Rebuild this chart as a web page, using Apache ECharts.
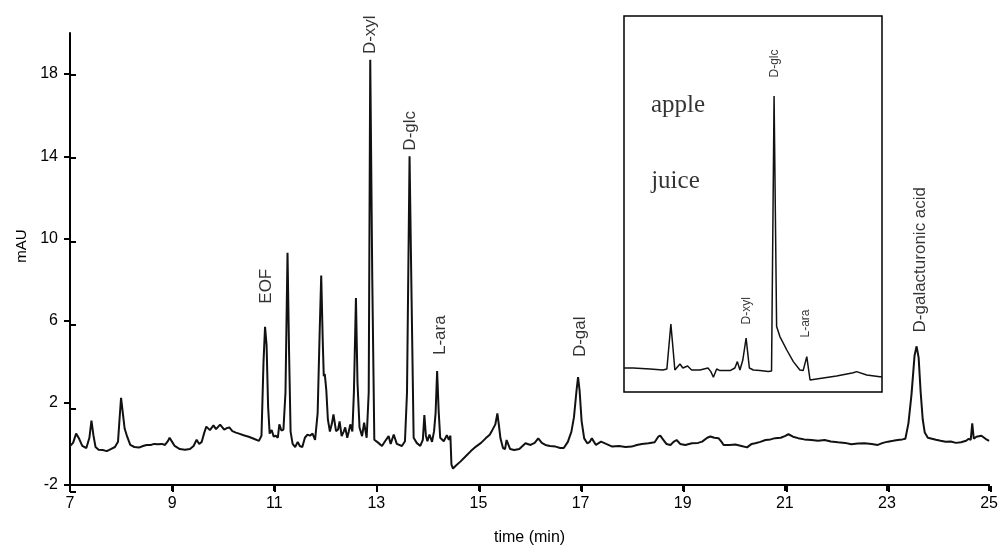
<!DOCTYPE html>
<html>
<head>
<meta charset="utf-8">
<script src="https://cdn.jsdelivr.net/npm/echarts@6/dist/echarts.min.js"></script>
<style>
html, body { margin: 0; padding: 0; background: #fff; }
#chart1 { width: 1001px; height: 551px; }
</style>
</head>
<body>
<div id="chart1"></div>
<script>
var xTicks = [7, 9, 11, 13, 15, 17, 19, 21, 23, 25];
var yTicks = [-2, 2, 6, 10, 14, 18];

// main electropherogram [time (min), mAU]
var trace = [
    [7.00,-0.10],[7.06,0.05],[7.12,0.50],[7.18,0.25],[7.24,-0.10],[7.32,-0.20],[7.38,0.30],[7.42,1.13],[7.46,0.40],[7.50,-0.15],
    [7.56,-0.28],[7.64,-0.30],[7.72,-0.35],[7.80,-0.25],[7.88,-0.15],[7.94,0.10],[7.97,1.20],[8.00,2.24],[8.03,1.60],[8.07,0.75],
    [8.12,0.35],[8.18,-0.05],[8.26,-0.15],[8.35,-0.18],[8.43,-0.10],[8.50,-0.05],[8.58,-0.05],[8.65,0.00],[8.72,-0.02],[8.80,0.00],
    [8.86,-0.05],[8.92,0.15],[8.95,0.30],[9.00,0.10],[9.05,-0.10],[9.15,-0.25],[9.25,-0.28],[9.35,-0.25],[9.42,-0.10],[9.48,0.20],
    [9.53,0.00],[9.58,0.10],[9.63,0.55],[9.67,0.84],[9.74,0.67],[9.81,0.90],[9.86,0.72],[9.94,0.94],[10.02,0.70],[10.08,0.78],
    [10.12,0.80],[10.18,0.62],[10.25,0.55],[10.31,0.50],[10.40,0.42],[10.50,0.35],[10.60,0.25],[10.70,0.15],[10.75,0.40],[10.79,4.00],
    [10.82,5.70],[10.85,4.80],[10.88,1.80],[10.91,0.50],[10.95,0.68],[10.99,0.35],[11.03,0.40],[11.07,0.30],[11.10,0.95],[11.14,0.65],
    [11.18,0.70],[11.22,2.50],[11.26,9.30],[11.29,4.50],[11.32,0.60],[11.36,0.00],[11.41,-0.15],[11.46,0.10],[11.50,-0.10],[11.55,-0.15],
    [11.60,0.30],[11.65,0.45],[11.70,0.40],[11.75,0.50],[11.80,0.20],[11.85,1.50],[11.89,5.50],[11.92,8.20],[11.95,5.00],[11.97,3.30],
    [11.99,3.40],[12.02,2.60],[12.05,1.20],[12.09,0.60],[12.13,1.00],[12.16,1.44],[12.21,0.62],[12.25,0.70],[12.28,1.10],[12.32,0.38],
    [12.36,0.60],[12.39,0.80],[12.43,0.30],[12.46,0.60],[12.49,0.95],[12.53,0.60],[12.56,2.50],[12.60,7.10],[12.63,3.00],[12.67,0.80],
    [12.72,0.38],[12.76,1.03],[12.81,0.30],[12.85,2.50],[12.88,18.70],[12.92,8.00],[12.96,0.20],[13.04,0.05],[13.11,-0.10],[13.17,0.13],
    [13.24,0.38],[13.28,0.00],[13.34,0.46],[13.40,0.00],[13.50,-0.10],[13.56,0.13],[13.60,2.50],[13.65,14.00],[13.69,7.00],[13.73,0.30],
    [13.79,0.05],[13.86,-0.10],[13.91,0.20],[13.94,1.40],[13.97,0.40],[14.00,0.13],[14.04,0.46],[14.09,0.10],[14.13,0.62],[14.16,1.50],
    [14.19,3.55],[14.22,1.60],[14.25,0.30],[14.32,0.13],[14.38,0.43],[14.42,0.20],[14.45,0.40],[14.47,-1.00],[14.50,-1.20],[14.56,-1.05],
    [14.65,-0.85],[14.75,-0.60],[14.85,-0.35],[14.95,-0.13],[15.05,0.05],[15.14,0.27],[15.22,0.45],[15.27,0.67],[15.33,0.95],[15.37,1.48],
    [15.40,0.90],[15.43,0.27],[15.48,-0.20],[15.52,-0.25],[15.55,0.19],[15.58,0.00],[15.62,-0.25],[15.70,-0.30],[15.80,-0.25],[15.92,0.03],
    [16.02,-0.05],[16.10,0.05],[16.17,0.27],[16.24,0.05],[16.31,-0.05],[16.40,-0.10],[16.51,-0.13],[16.60,-0.20],[16.67,-0.20],[16.75,0.10],
    [16.82,0.60],[16.87,1.30],[16.92,2.60],[16.95,3.25],[16.98,2.60],[17.02,1.10],[17.07,0.27],[17.13,0.03],[17.18,0.10],[17.22,0.27],
    [17.30,-0.05],[17.40,0.11],[17.50,0.00],[17.62,-0.13],[17.75,-0.10],[17.88,-0.15],[18.00,-0.13],[18.10,-0.05],[18.20,0.00],[18.33,0.03],
    [18.45,0.08],[18.52,0.35],[18.56,0.40],[18.62,0.20],[18.68,0.00],[18.76,-0.05],[18.82,0.10],[18.88,0.19],[18.95,0.00],[19.05,-0.05],
    [19.18,0.03],[19.30,0.05],[19.38,0.11],[19.48,0.30],[19.54,0.36],[19.62,0.30],[19.70,0.28],[19.76,0.10],[19.80,-0.05],[19.92,-0.05],
    [20.03,-0.03],[20.15,-0.10],[20.26,-0.17],[20.35,0.00],[20.42,0.03],[20.52,0.10],[20.62,0.19],[20.72,0.22],[20.81,0.28],[20.92,0.30],
    [21.00,0.38],[21.07,0.47],[21.16,0.35],[21.26,0.28],[21.38,0.22],[21.52,0.19],[21.65,0.15],[21.78,0.19],[21.90,0.12],[22.04,0.08],
    [22.18,0.05],[22.30,-0.02],[22.43,0.02],[22.56,0.03],[22.70,0.00],[22.82,-0.05],[22.92,0.05],[23.02,0.11],[23.12,0.15],[23.21,0.19],
    [23.30,0.22],[23.36,0.25],[23.42,1.00],[23.48,2.40],[23.54,4.30],[23.58,4.75],[23.62,4.20],[23.66,2.50],[23.70,1.20],[23.74,0.55],
    [23.80,0.30],[23.88,0.25],[23.96,0.20],[24.05,0.15],[24.15,0.10],[24.25,0.12],[24.35,0.05],[24.45,0.08],[24.55,0.15],[24.60,0.25],
    [24.64,0.20],[24.67,1.00],[24.70,0.25],[24.75,0.35],[24.85,0.40],[24.93,0.25],[25.00,0.15]
];

// inset: apple juice [time (min), mAU]
var juice = [
    [9.50,0.00],[9.75,0.00],[10.22,-0.05],[10.57,-0.10],[10.68,-0.05],[10.79,2.20],[10.90,-0.10],[11.04,0.20],[11.12,0.00],[11.25,0.10],
    [11.36,-0.10],[11.59,-0.10],[11.81,0.00],[11.89,-0.18],[11.96,-0.46],[12.05,-0.05],[12.14,-0.13],[12.42,-0.13],[12.55,0.00],[12.62,0.32],
    [12.69,-0.10],[12.77,0.40],[12.86,1.50],[12.95,0.00],[13.06,-0.10],[13.24,-0.13],[13.47,-0.18],[13.56,-0.15],[13.63,13.60],[13.70,2.07],
    [13.79,1.57],[13.98,0.90],[14.16,0.32],[14.34,-0.10],[14.43,-0.13],[14.53,0.57],[14.62,-0.60],[14.89,-0.52],[15.35,-0.40],[15.81,-0.24],
    [15.90,-0.18],[16.18,-0.35],[16.54,-0.44],[16.60,-0.44]
];

var peakNames = ['EOF', 'D-xyl', 'D-glc', 'L-ara', 'D-gal', 'D-galacturonic acid'];
var peakLabelX = [10.86, 12.90, 13.68, 14.26, 17.00, 23.66];
var peakLabelY = [6.8, 18.95, 14.25, 4.3, 4.2, 5.4];

var insetNames = ['D-xyl', 'D-glc', 'L-ara'];
var insetLabelX = [12.88, 13.66, 14.50];
var insetLabelY = [2.15, 14.5, 1.5];

var sampleWords = ['apple', 'juice'];
var sampleX = [11.0, 10.93];
var sampleY = [13.1, 9.3];

var font = 'Liberation Sans, Arial, sans-serif';
var mainRect = {left: 70, right: 10, top: 33, bottom: 59};

var myChart = echarts.init(document.getElementById('chart1'));

var option = {
    backgroundColor: '#fff',
    animation: false,
    textStyle: {fontFamily: font, color: '#000'},
    grid: [
        {left: mainRect.left, right: mainRect.right, top: mainRect.top, bottom: mainRect.bottom},
        {left: mainRect.left, right: mainRect.right, top: mainRect.top, bottom: mainRect.bottom},
        {left: 624, top: 16, width: 258, height: 376, show: true, borderColor: '#000', borderWidth: 1.5, backgroundColor: '#fff', z: 5}
    ],
    xAxis: [
        {
            gridIndex: 0, type: 'value', min: 7, max: 25,
            name: 'time (min)', nameLocation: 'middle', nameGap: 45,
            nameTextStyle: {fontSize: 16, color: '#000', fontFamily: font},
            axisLine: {onZero: false, lineStyle: {color: '#000', width: 2}},
            axisTick: {length: 6, lineStyle: {color: '#000', width: 2}, customValues: xTicks},
            axisLabel: {customValues: xTicks, fontSize: 16, color: '#000', margin: 11, fontFamily: font},
            splitLine: {show: false}
        },
        {
            gridIndex: 1, type: 'value', min: 7, max: 25,
            axisLine: {show: false, onZero: false},
            axisTick: {inside: true, length: 6, lineStyle: {color: '#000', width: 2}, customValues: xTicks},
            axisLabel: {show: false},
            splitLine: {show: false}
        },
        {gridIndex: 2, type: 'value', min: 9.5, max: 16.6, show: false}
    ],
    yAxis: [
        {
            gridIndex: 0, type: 'value', min: -2, max: 20,
            name: 'mAU', nameLocation: 'middle', nameGap: 33, nameRotate: 90,
            nameTextStyle: {fontSize: 15, color: '#000', fontFamily: font, padding: [0, 0, 0, 26]},
            axisLine: {onZero: false, lineStyle: {color: '#000', width: 2}},
            axisTick: {length: 6, lineStyle: {color: '#000', width: 2}, customValues: yTicks},
            axisLabel: {customValues: yTicks, fontSize: 16, color: '#000', margin: 12, fontFamily: font},
            splitLine: {show: false}
        },
        {
            gridIndex: 1, type: 'value', min: -2, max: 20,
            axisLine: {show: false, onZero: false},
            axisTick: {inside: true, length: 6, lineStyle: {color: '#000', width: 2}, customValues: yTicks},
            axisLabel: {show: false},
            splitLine: {show: false}
        },
        {gridIndex: 2, type: 'value', min: -1.2, max: 17.6, show: false}
    ],
    series: [
        {
            type: 'line', xAxisIndex: 0, yAxisIndex: 0,
            data: trace, showSymbol: false, symbol: 'none',
            lineStyle: {color: '#111', width: 2},
            z: 3
        },
        {
            type: 'scatter', xAxisIndex: 0, yAxisIndex: 0,
            data: peakNames.map(function (n, i) { return {name: n, value: [peakLabelX[i], peakLabelY[i]]}; }),
            symbolSize: 1, itemStyle: {color: 'rgba(0,0,0,0)'},
            label: {
                show: true, position: [0, 0], rotate: 90, align: 'left', verticalAlign: 'middle',
                formatter: '{b}', fontSize: 17, color: '#000', fontFamily: font
            },
            z: 4
        },
        {
            type: 'line', xAxisIndex: 2, yAxisIndex: 2,
            data: juice, showSymbol: false, symbol: 'none',
            lineStyle: {color: '#111', width: 1.5},
            z: 6
        },
        {
            type: 'scatter', xAxisIndex: 2, yAxisIndex: 2,
            data: insetNames.map(function (n, i) { return {name: n, value: [insetLabelX[i], insetLabelY[i]]}; }),
            symbolSize: 1, itemStyle: {color: 'rgba(0,0,0,0)'},
            label: {
                show: true, position: [0, 0], rotate: 90, align: 'left', verticalAlign: 'middle',
                formatter: '{b}', fontSize: 12, color: '#000', fontFamily: font
            },
            z: 6
        },
        {
            type: 'scatter', xAxisIndex: 2, yAxisIndex: 2,
            data: sampleWords.map(function (n, i) { return {name: n, value: [sampleX[i], sampleY[i]]}; }),
            symbolSize: 1, itemStyle: {color: 'rgba(0,0,0,0)'},
            label: {
                show: true, position: [0, 0], align: 'center', verticalAlign: 'middle',
                formatter: '{b}', fontSize: 25, color: '#000', fontFamily: 'Liberation Serif, Times New Roman, serif'
            },
            z: 6
        }
    ]
};
myChart.setOption(option);
</script>
</body>
</html>
